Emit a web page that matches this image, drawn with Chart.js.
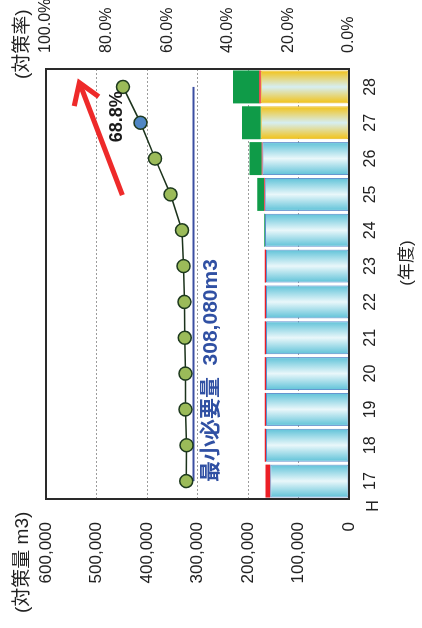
<!DOCTYPE html>
<html>
<head>
<meta charset="utf-8">
<script src="https://cdn.jsdelivr.net/npm/chart.js@4.4.1/dist/chart.umd.min.js"></script>
<style>
  html, body { margin: 0; padding: 0; background: #fff; overflow: hidden; }
  body { width: 422px; height: 628px; position: relative; }
  /* the chart is laid out landscape and turned a quarter turn counter-clockwise */
  #frame {
    position: absolute; left: 0; top: 0;
    width: 628px; height: 422px;
    transform-origin: 0 0;
    transform: translate(0, 628px) rotate(-90deg);
  }
</style>
</head>
<body>
<div id="frame"><canvas id="chart" width="628" height="422"></canvas></div>
<script>
// 年度 (平成)
const YEARS = ['17', '18', '19', '20', '21', '22', '23', '24', '25', '26', '27', '28'];
// 対策量 m3 — stacked components
const EXISTING = [156000, 164500, 164500, 164500, 164500, 164500, 164500, 166500, 167000, 171500, 175000, 175000];
const RED_PART = [9500, 2500, 2500, 2500, 2500, 2500, 2500, 0, 1500, 1500, 0, 2500];
const GREEN_PART = [0, 0, 0, 0, 0, 0, 0, 1500, 13000, 24000, 37000, 52000];
// 対策率 %
const RATE = [53.7, 53.6, 54.0, 54.0, 54.2, 54.3, 54.6, 55.1, 58.9, 64.0, 68.8, 74.6];
// 最小必要量 m3
const MIN_REQUIRED = 308080;
const MIN_LINE = YEARS.map(() => MIN_REQUIRED);
// years drawn with the yellow band, and the year whose rate is called out
const YELLOW_YEARS = ['27', '28'];
const CALLOUT_YEAR = '27';

const LATIN = '"Liberation Sans", Arial, sans-serif';
const MIXED = '"Liberation Sans", "Noto Sans CJK JP", sans-serif';
const BAR_PCT = 0.92;

function bandGradient(context) {
  const chart = context.chart;
  const area = chart.chartArea;
  const yellow = YELLOW_YEARS.includes(YEARS[context.dataIndex]);
  const edge = yellow ? '#f3c214' : '#5ec2d8';
  const mid = yellow ? '#d6eef2' : '#e9f7fa';
  if (!area) return edge;
  const xs = chart.scales.x;
  const cx = xs.getPixelForValue(context.dataIndex);
  const half = (xs.width / YEARS.length) * BAR_PCT / 2;
  const g = chart.ctx.createLinearGradient(cx - half, 0, cx + half, 0);
  g.addColorStop(0, edge);
  g.addColorStop(0.5, mid);
  g.addColorStop(1, edge);
  return g;
}

const extras = {
  id: 'extras',
  afterDatasetsDraw(chart) {
    const { ctx, chartArea: a, scales: { x, y, y1 } } = chart;
    ctx.save();

    // plot frame
    ctx.strokeStyle = '#2a2a2a';
    ctx.lineWidth = 2;
    ctx.strokeRect(a.left, a.top, a.right - a.left, a.bottom - a.top);

    // upward trend arrow
    const tx = x.getPixelForValue(7.98), ty = y1.getPixelForValue(74.8);
    const hx = x.getPixelForValue(11.12), hy = y1.getPixelForValue(89.0);
    const ang = Math.atan2(hy - ty, hx - tx);
    ctx.strokeStyle = '#ee2a2a';
    ctx.lineWidth = 5;
    ctx.lineCap = 'butt';
    ctx.lineJoin = 'miter';
    ctx.beginPath();
    ctx.moveTo(tx, ty);
    ctx.lineTo(hx - 2 * Math.cos(ang), hy - 2 * Math.sin(ang));
    ctx.stroke();
    const arm = 24, spread = 0.58;
    ctx.beginPath();
    ctx.moveTo(hx + arm * Math.cos(ang + Math.PI - spread), hy + arm * Math.sin(ang + Math.PI - spread));
    ctx.lineTo(hx, hy);
    ctx.lineTo(hx + arm * Math.cos(ang + Math.PI + spread), hy + arm * Math.sin(ang + Math.PI + spread));
    ctx.stroke();

    // rate call-out
    const ci = YEARS.indexOf(CALLOUT_YEAR);
    const pt = chart.getDatasetMeta(4).data[ci];
    ctx.fillStyle = '#1a1a1a';
    ctx.font = 'bold 18px ' + LATIN;
    ctx.textAlign = 'center';
    ctx.textBaseline = 'middle';
    ctx.fillText(RATE[ci].toFixed(1) + '%', pt.x + 6, pt.y - 24);

    // minimum requirement label
    ctx.fillStyle = '#3050a3';
    ctx.font = 'bold 21px ' + MIXED;
    ctx.textAlign = 'left';
    ctx.fillText('最小必要量  ' + MIN_REQUIRED.toLocaleString('en-US') + 'm3',
      x.getPixelForValue(0) - 1, y.getPixelForValue(MIN_REQUIRED) + 18);

    // axis captions
    ctx.fillStyle = '#222';
    ctx.font = '19px ' + MIXED;
    ctx.textAlign = 'left';
    ctx.fillText('(対策量 m3)', 15, 23);
    ctx.fillText('(対策率)', 549, 23);
    ctx.font = '17px ' + MIXED;
    ctx.textAlign = 'center';
    ctx.fillText('(年度)', (a.left + a.right) / 2 + 21, 407);

    // era prefix before the first year
    ctx.font = '16px ' + LATIN;
    ctx.textAlign = 'right';
    ctx.fillText('H', x.getPixelForValue(0) - 19, 374);

    ctx.restore();
  }
};

new Chart(document.getElementById('chart'), {
  data: {
    labels: YEARS,
    datasets: [
      {
        type: 'bar', label: '既存', data: EXISTING, yAxisID: 'y', order: 2,
        backgroundColor: bandGradient,
        borderColor: YEARS.map(v => YELLOW_YEARS.includes(v) ? '#e4b820' : '#5a8ccc'),
        borderWidth: 1, borderSkipped: false,
        barPercentage: BAR_PCT, categoryPercentage: 1
      },
      {
        type: 'bar', label: '赤', data: RED_PART, yAxisID: 'y', order: 2,
        backgroundColor: '#ec1f26', borderWidth: 0,
        barPercentage: BAR_PCT, categoryPercentage: 1
      },
      {
        type: 'bar', label: '緑', data: GREEN_PART, yAxisID: 'y', order: 2,
        backgroundColor: '#0f9b48', borderWidth: 0,
        barPercentage: BAR_PCT, categoryPercentage: 1
      },
      {
        type: 'line', label: '最小必要量', data: MIN_LINE, yAxisID: 'y', stack: 'min', order: 1,
        borderColor: '#3c4fa2', borderWidth: 2, pointRadius: 0, fill: false
      },
      {
        type: 'line', label: '対策率', data: RATE, yAxisID: 'y1', order: 0,
        borderColor: '#1c331c', borderWidth: 1.5, fill: false, tension: 0,
        pointRadius: 6.5,
        pointBackgroundColor: YEARS.map(v => v === CALLOUT_YEAR ? '#4f86c4' : '#9bbb59'),
        pointBorderColor: '#1e3a1e', pointBorderWidth: 1.5
      }
    ]
  },
  options: {
    responsive: false,
    animation: false,
    devicePixelRatio: 1,
    layout: { padding: { top: 46, left: 0, right: 0, bottom: 0 } },
    plugins: { legend: { display: false }, tooltip: { enabled: false } },
    scales: {
      x: {
        stacked: true, offset: true,
        grid: { display: false, drawTicks: false },
        border: { display: false },
        ticks: { font: { family: LATIN, size: 16 }, color: '#222', padding: 12, maxRotation: 0 },
        afterFit: s => { s.height = 73; }
      },
      y: {
        position: 'left', stacked: true, min: 0, max: 600000,
        ticks: {
          stepSize: 100000, padding: 23, color: '#222',
          font: { family: LATIN, size: 17 },
          callback: v => v.toLocaleString('en-US')
        },
        grid: { color: '#9c9c9c', drawTicks: false },
        border: { display: false, dash: [2, 2] },
        afterFit: s => { s.width = 129; }
      },
      y1: {
        position: 'right', min: 0, max: 100,
        ticks: {
          stepSize: 20, padding: 16, color: '#222',
          font: { family: LATIN, size: 16 },
          callback: v => v.toFixed(1) + '%'
        },
        grid: { display: false, drawTicks: false },
        border: { display: false },
        afterFit: s => { s.width = 69; }
      }
    }
  },
  plugins: [extras]
});
</script>
</body>
</html>
